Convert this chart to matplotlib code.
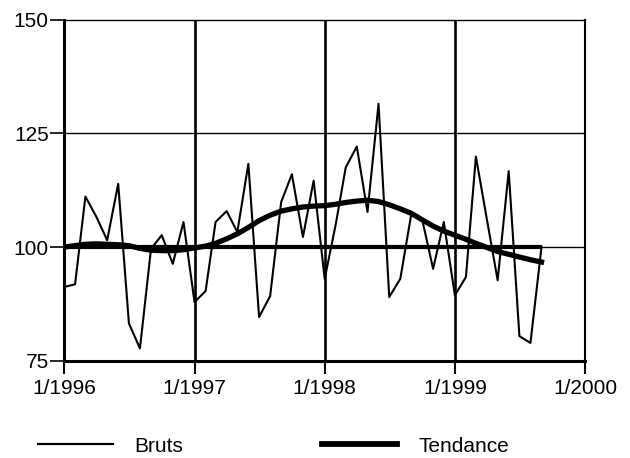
import matplotlib
matplotlib.use("Agg")
import matplotlib.pyplot as plt
from matplotlib.lines import Line2D
import pandas as pd

# Monthly index, Jan 1996 - Sep 1999
months = pd.date_range("1996-01-01", "1999-09-01", freq="MS")

bruts = [
    91.2, 91.8, 111.1, 106.6, 101.5, 113.9, 83.2, 77.7, 99.6, 102.6, 96.3, 105.5,
    87.9, 90.3, 105.5, 107.9, 103.3, 118.3, 84.6, 89.2, 109.9, 116.0, 102.2, 114.6,
    93.0, 105.0, 117.5, 122.1, 107.7, 131.5, 89.0, 93.0, 107.3, 106.2, 95.2, 105.5,
    89.4, 93.4, 119.9, 106.0, 92.7, 116.7, 80.4, 78.9, 100.0,
]
tendance = [
    100.0, 100.3, 100.6, 100.7, 100.6, 100.5, 100.3, 99.7, 99.3, 99.2, 99.2, 99.4,
    99.8, 100.2, 100.8, 101.8, 102.9, 104.3, 105.8, 107.0, 107.9, 108.4, 108.8, 109.0,
    109.1, 109.4, 109.8, 110.1, 110.3, 110.0, 109.3, 108.4, 107.4, 106.0, 104.6, 103.5,
    102.6, 101.7, 100.8, 99.9, 99.0, 98.4, 97.8, 97.2, 96.7,
]
base_level = 100

year_ticks = pd.to_datetime(["1996-01-01", "1997-01-01", "1998-01-01",
                             "1999-01-01", "2000-01-01"])
year_labels = ["1/1996", "1/1997", "1/1998", "1/1999", "1/2000"]
y_ticks = [75, 100, 125, 150]

plt.rcParams["font.family"] = ["Liberation Sans", "DejaVu Sans"]
plt.rcParams["font.size"] = 15

fig = plt.figure(figsize=(6.3, 4.58), dpi=100)
ax = fig.add_axes([0.1016, 0.2125, 0.827, 0.7445])

# grid
for d in year_ticks[1:-1]:
    ax.axvline(d, color="black", linewidth=1.9, zorder=1)
for v in [100, 125]:
    ax.axhline(v, color="black", linewidth=1.0, zorder=1)

# base 100 line
ax.plot([months[0], months[-1]], [base_level, base_level],
        color="black", linewidth=3.0, solid_capstyle="butt", zorder=2)

ax.plot(months, bruts, color="black", linewidth=1.5, zorder=3)
ax.plot(months, tendance, color="black", linewidth=3.8, zorder=4)

ax.set_xlim(year_ticks[0], year_ticks[-1])
ax.set_ylim(75, 150)
ax.set_xticks(year_ticks)
ax.set_xticklabels(year_labels)
ax.set_yticks(y_ticks)
ax.tick_params(axis="y", direction="out", length=10, width=1.2, pad=1)
ax.tick_params(axis="x", direction="out", length=9.5, width=1.5, pad=3.5)

ax.spines["left"].set_linewidth(2.2)
ax.spines["bottom"].set_linewidth(2.2)
ax.spines["top"].set_linewidth(1.0)
ax.spines["right"].set_linewidth(1.5)

handles = [
    Line2D([], [], color="black", linewidth=1.6),
    Line2D([], [], color="black", linewidth=4.2),
]
fig.legend(handles, ["Bruts", "Tendance"], ncol=2, frameon=False,
           loc="center left", bbox_to_anchor=(38 / 630, 1 - 446 / 458),
           borderpad=0, borderaxespad=0, handlelength=3.6,
           handletextpad=1.0, columnspacing=6.7)

fig.savefig("out.png", dpi=100)
